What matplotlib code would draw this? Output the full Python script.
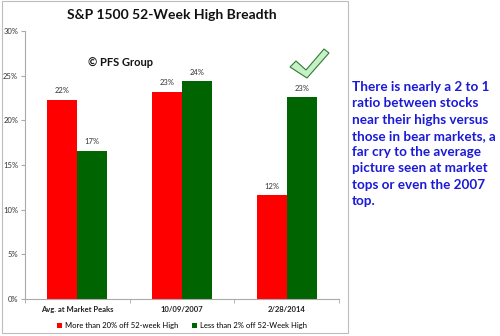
import numpy as np
import matplotlib
matplotlib.use("Agg")
import matplotlib.pyplot as plt
from matplotlib.patches import Rectangle, Polygon

plt.rcParams['font.family'] = ['Lato', 'DejaVu Sans']

# data
categories = ["Avg. at Market Peaks", "10/09/2007", "2/28/2014"]
far_off_high = [22.3, 23.2, 11.6]      # more than 20% off 52-week high
near_high = [16.6, 24.4, 22.6]         # less than 2% off 52-week high
series_names = ["More than 20% off 52-week High", "Less than 2% off 52-Week High"]
yticks = [0, 5, 10, 15, 20, 25, 30]
note = ("There is nearly a 2 to 1\nratio between stocks\nnear their highs versus\n"
        "those in bear markets, a\nfar cry to the average\npicture seen at market\n"
        "tops or even the 2007\ntop.")

W, H = 500, 336
fig = plt.figure(figsize=(W / 100, H / 100), dpi=100)
fig.patch.set_facecolor("white")

# chart border
fig.add_artist(Rectangle((2 / W, 1 - 333 / H), 346 / W, 332 / H, transform=fig.transFigure,
                         fill=False, edgecolor="#bdbdbd", linewidth=0.8))

ax = fig.add_axes([25 / W, 1 - 299 / H, 314 / W, 268 / H])
x = np.arange(len(categories))
bw = 0.286
ax.bar(x - bw / 2, far_off_high, bw, color="#ff0000", label=series_names[0])
ax.bar(x + bw / 2, near_high, bw, color="#006400", label=series_names[1])

for xi, v in zip(x - bw / 2, far_off_high):
    ax.text(xi, v + 0.6, f"{round(v):.0f}%", ha="center", va="bottom", fontsize=5.5, color="#333333")
for xi, v in zip(x + bw / 2, near_high):
    ax.text(xi, v + 0.6, f"{round(v):.0f}%", ha="center", va="bottom", fontsize=5.5, color="#333333")

ax.set_xlim(-0.5, 2.5)
ax.set_ylim(0, 30)
ax.set_yticks(yticks)
ax.set_yticklabels([f"{t}%" for t in yticks], fontsize=5.5, color="#333333")
ax.set_xticks(x)
ax.set_xticklabels(categories, fontsize=5.5, fontweight="bold", color="#222222")
ax.set_xticks([-0.5, 0.5, 1.5, 2.5], minor=True)
ax.tick_params(axis="x", which="major", length=0, pad=5)
ax.tick_params(axis="x", which="minor", length=3, color="#aaaaaa", direction="out")
ax.tick_params(axis="y", length=3, color="#aaaaaa", pad=2)
for s in ["top", "right"]:
    ax.spines[s].set_visible(False)
for s in ["left", "bottom"]:
    ax.spines[s].set_color("#aaaaaa")
    ax.spines[s].set_linewidth(0.8)

ax.legend(loc="upper center", bbox_to_anchor=(0.5, -0.06), ncol=2, frameon=False,
          fontsize=5.5, handlelength=0.7, handleheight=0.7, handletextpad=0.4,
          columnspacing=1.8)

fig.text(172 / W, 1 - 15 / H, "S&P 1500 52-Week High Breadth", ha="center", va="center",
         fontsize=10, fontweight="bold", color="#111111")
fig.text(88 / W, 1 - 62 / H, "© PFS Group", ha="left", va="center",
         fontsize=8, fontweight="bold", color="#111111")

# check mark
chk = [(290, 67), (296, 61), (306, 70), (324, 49), (329, 53), (307, 78)]
fig.add_artist(Polygon([(px / W, 1 - py / H) for px, py in chk], closed=True,
                       transform=fig.transFigure, facecolor="#c8f0c8",
                       edgecolor="#2e7d32", linewidth=0.8))

fig.text(352 / W, 1 - 81 / H, note, ha="left", va="top", fontsize=9.7,
         fontweight="bold", color="#1a1ad8", linespacing=1.43)

fig.savefig("out.png", dpi=100)
